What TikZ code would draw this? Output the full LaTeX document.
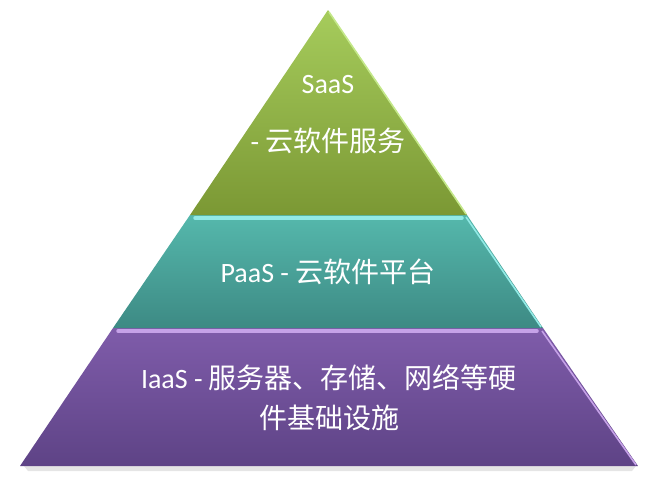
\documentclass[tikz,border=0pt]{standalone}
\usepackage{fontspec}
\setmainfont{Carlito}
\newfontfamily\cjk{Noto Sans CJK SC}
\definecolor{saasTop}{HTML}{A6CC5C}
\definecolor{saasBot}{HTML}{7B9834}
\definecolor{saasRim}{HTML}{C4E88A}
\definecolor{paasTop}{HTML}{55B8AC}
\definecolor{paasBot}{HTML}{3D8A84}
\definecolor{paasRim}{HTML}{92EAE6}
\definecolor{iaasTop}{HTML}{7F5CAA}
\definecolor{iaasBot}{HTML}{5E4386}
\definecolor{iaasRim}{HTML}{C6A2E8}
\tikzset{
  tiertext/.style={text=white, font=\fontsize{28}{40}\selectfont, align=center, inner sep=0pt},
  toprim/.style={line width=3.5pt, line cap=round},
  siderim/.style={line width=1.6pt},
}
\begin{document}
\begin{tikzpicture}[x=1pt,y=-1pt]
\useasboundingbox (0,0) rectangle (650,482);
% shadow under the base
\fill[black!10] (24,466) -- (636,466) -- (632,471) -- (28,471) -- cycle;
% IaaS tier
\shade[top color=iaasTop, bottom color=iaasBot] (113,328) -- (543,328) -- (638,466) -- (20,466) -- cycle;
\draw[siderim, iaasRim] (542,331) -- (636,465);
\draw[toprim, iaasRim] (118,331) -- (537,331);
% PaaS tier
\shade[top color=paasTop, bottom color=paasBot] (190,215) -- (467,215) -- (543,328) -- (113,328) -- cycle;
\draw[siderim, paasRim] (466,217) -- (541,327);
\draw[toprim, paasRim] (195,218) -- (462,218);
% SaaS tier
\shade[top color=saasTop, bottom color=saasBot] (328,10) -- (467,215) -- (190,215) -- cycle;
\draw[siderim, saasRim] (329,12) -- (466,214);
% labels
\node[tiertext] (saas) at (328,115) {SaaS\\[18pt]- {\cjk 云软件服务}};
\node[tiertext] (paas) at (328,272) {PaaS - {\cjk 云软件平台}};
\node[tiertext] (iaas) at (329,398) {IaaS - {\cjk 服务器、存储、网络等硬}\\{\cjk 件基础设施}};
\end{tikzpicture}
\end{document}
